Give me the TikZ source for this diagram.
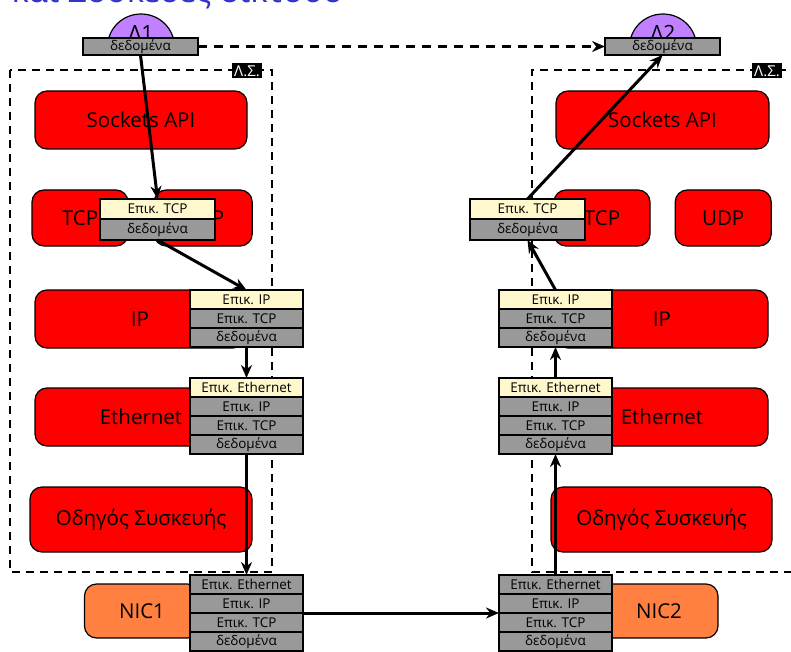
\documentclass[tikz,border=0pt]{standalone}
\usepackage{fontspec}
\setmainfont{Open Sans}
\usetikzlibrary{arrows.meta,positioning}
\definecolor{hdrcol}{HTML}{FFF8CC}
\definecolor{pktcol}{HTML}{999999}
\definecolor{appcol}{HTML}{C080FF}
\definecolor{niccol}{HTML}{FF8040}
\definecolor{titlecol}{HTML}{3333CC}

\begin{document}
\begin{tikzpicture}[x=1pt,y=1pt,>={Stealth[length=13pt,width=11pt]}]
    \tikzstyle{layer}=[draw, fill=red, rounded corners=12pt, line width=1.2pt, minimum height=58pt, inner sep=0pt, font=\fontsize{20.5}{20.5}\selectfont]
    \tikzstyle{hdr}=[draw, fill=hdrcol, line width=1.2pt, outer sep=0pt, minimum width=113pt, minimum height=19pt, inner sep=0pt, font=\fontsize{13.5}{13.5}\selectfont]
    \tikzstyle{pkt}=[hdr, fill=pktcol]
    \tikzstyle{os}=[draw, dash pattern=on 8pt off 6pt, line width=1.8pt]
    \tikzstyle{oslabel}=[fill=black, text=white, inner sep=2pt, minimum width=30pt, minimum height=15pt, font=\fontsize{15}{15}\selectfont]
    \tikzstyle{flow}=[line width=3pt]

    \useasboundingbox (0,0) rectangle (791,-652);

    % title, cut by the top edge
    \node[anchor=base west, text=titlecol, font=\fontsize{33}{33}\selectfont] (title) at (8,-2.5) {και Συσκευές δικτύου};

    % operating systems
    \draw[os] (10,-70) rectangle (272,-572);
    \node[oslabel] (osL) at (247,-71) {Λ.Σ.};
    \draw[os] (800,-70) -- (532,-70) -- (532,-572) -- (800,-572);
    \node[oslabel] (osR) at (767,-71) {Λ.Σ.};

    % left host
    \node[layer, minimum width=212pt] (apiL) at (141,-120) {Sockets API};
    \node[layer, minimum width=96pt, minimum height=56pt] (tcpL) at (80,-218) {TCP};
    \node[layer, minimum width=98pt, minimum height=56pt] (udpL) [right=25pt of tcpL] {UDP};
    \node[layer, minimum width=210pt] (ipL) at (140,-319) {IP};
    \node[layer, minimum width=212pt] (ethL) at (141,-417) {Ethernet};
    \node[layer, minimum width=222pt, minimum height=65pt] (drvL) at (141,-519.5) {Οδηγός Συσκευής};
    \node[layer, fill=niccol, minimum width=115pt, minimum height=54pt] (nicL) at (142,-611) {NIC1};

    % right host
    \node[layer, minimum width=213pt] (apiR) at (662.5,-120) {Sockets API};
    \node[layer, minimum width=96pt, minimum height=56pt] (tcpR) at (602,-218) {TCP};
    \node[layer, minimum width=96pt, minimum height=56pt] (udpR) [right=24pt of tcpR] {UDP};
    \node[layer, minimum width=212pt] (ipR) at (662,-319) {IP};
    \node[layer, minimum width=212pt] (ethR) at (662,-417) {Ethernet};
    \node[layer, minimum width=221pt, minimum height=65pt] (drvR) at (661.5,-519.5) {Οδηγός Συσκευής};
    \node[layer, fill=niccol, minimum width=118pt, minimum height=54pt] (nicR) at (659,-611) {NIC2};

    % applications
    \draw[fill=appcol, line width=1.2pt] (107.5,-47) arc[start angle=180, end angle=0, x radius=33.5, y radius=33] -- cycle;
    \node[anchor=base, font=\fontsize{21}{21}\selectfont] (appL) at (141,-41) {Λ1};
    \node[pkt, minimum width=115pt, minimum height=17pt] (appLd) at (140.5,-46.5) {δεδομένα};
    \draw[fill=appcol, line width=1.2pt] (629.5,-47) arc[start angle=180, end angle=0, x radius=33.5, y radius=33] -- cycle;
    \node[anchor=base, font=\fontsize{21}{21}\selectfont] (appR) at (663,-41) {Λ2};
    \node[pkt, minimum width=115pt, minimum height=17pt] (appRd) at (662.5,-46.5) {δεδομένα};

    % packets, left
    \node[hdr, minimum width=115pt, minimum height=20pt] (tcpLh) at (157.5,-209) {Επικ. TCP};
    \node[pkt, minimum width=115pt, minimum height=21pt] (tcpLd) [below=0pt of tcpLh] {δεδομένα};
    \node[hdr] (ipLh) at (246.5,-299.5) {Επικ. IP};
    \node[pkt] (ipLt) [below=0pt of ipLh] {Επικ. TCP};
    \node[pkt] (ipLd) [below=0pt of ipLt] {δεδομένα};
    \node[hdr] (ethLh) at (246.5,-387.5) {Επικ. Ethernet};
    \node[pkt] (ethLi) [below=0pt of ethLh] {Επικ. IP};
    \node[pkt] (ethLt) [below=0pt of ethLi] {Επικ. TCP};
    \node[pkt] (ethLd) [below=0pt of ethLt] {δεδομένα};
    \node[pkt] (nicLe) at (246.5,-584.5) {Επικ. Ethernet};
    \node[pkt] (nicLi) [below=0pt of nicLe] {Επικ. IP};
    \node[pkt] (nicLt) [below=0pt of nicLi] {Επικ. TCP};
    \node[pkt] (nicLd) [below=0pt of nicLt] {δεδομένα};

    % packets, right
    \node[hdr, minimum width=115pt, minimum height=20pt] (tcpRh) at (527.5,-209) {Επικ. TCP};
    \node[pkt, minimum width=115pt, minimum height=21pt] (tcpRd) [below=0pt of tcpRh] {δεδομένα};
    \node[hdr] (ipRh) at (555.5,-299.5) {Επικ. IP};
    \node[pkt] (ipRt) [below=0pt of ipRh] {Επικ. TCP};
    \node[pkt] (ipRd) [below=0pt of ipRt] {δεδομένα};
    \node[hdr] (ethRh) at (555.5,-387.5) {Επικ. Ethernet};
    \node[pkt] (ethRi) [below=0pt of ethRh] {Επικ. IP};
    \node[pkt] (ethRt) [below=0pt of ethRi] {Επικ. TCP};
    \node[pkt] (ethRd) [below=0pt of ethRt] {δεδομένα};
    \node[pkt] (nicRe) at (555.5,-584.5) {Επικ. Ethernet};
    \node[pkt] (nicRi) [below=0pt of nicRe] {Επικ. IP};
    \node[pkt] (nicRt) [below=0pt of nicRi] {Επικ. TCP};
    \node[pkt] (nicRd) [below=0pt of nicRt] {δεδομένα};

    \path[->, flow]
    (appLd.south) edge (tcpLh.north)
    (tcpLd.south) edge (ipLh.north)
    (ipLd.south) edge (ethLh.north)
    (ethLd.south) edge (nicLe.north)
    (nicLi.south east) edge (nicRi.south west)
    (nicRe.north) edge (ethRd.south)
    (ethRh.north) edge (ipRd.south)
    (ipRh.north) edge (tcpRd.south)
    (tcpRh.north) edge (appRd.south);
    \path[->, flow, dash pattern=on 9pt off 7pt] (appLd.east) edge (appRd.west);
\end{tikzpicture}
\end{document}
